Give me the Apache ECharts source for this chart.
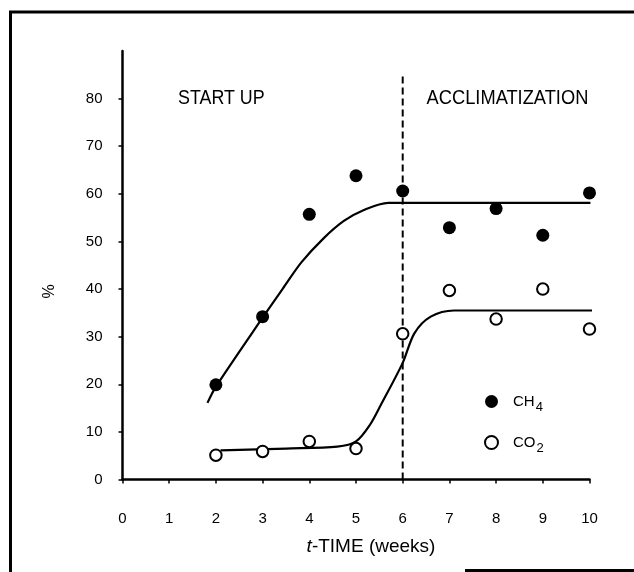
<!DOCTYPE html>
<html><head><meta charset="utf-8">
<script src="https://cdn.jsdelivr.net/npm/echarts@6/dist/echarts.min.js"></script>
<style>html,body{margin:0;padding:0;background:#fff}#c{width:634px;height:572px}</style>
</head><body><div id="c"></div>
<script>
const weeks = [2, 3, 4, 5, 6, 7, 8, 9, 10];
const ch4 = [19.9, 34.2, 55.7, 63.8, 60.6, 52.9, 56.9, 51.3, 60.2];
const co2 = [5.1, 5.9, 8.0, 6.5, 30.6, 39.7, 33.7, 40.0, 31.6];
const ch4FitX = [1.82, 2.0, 3.0, 3.44, 3.83, 4.3, 4.74, 5.17, 5.69, 6.5, 10.02];
const ch4FitY = [16.1, 19.5, 34.0, 40.2, 45.6, 50.6, 54.3, 56.6, 58.1, 58.1, 58.1];
const co2FitX = [2.1, 3.5, 4.6, 5.0, 5.3, 5.55, 6.0, 6.25, 6.6, 7.1, 7.8, 10.17];
const co2FitY = [6.1, 6.5, 6.9, 8.0, 11.5, 16.0, 24.5, 30.7, 34.2, 35.5, 35.5, 35.5];
const boundaryX = [6, 6];
const boundaryY = [0, 85];
const xTicks = [0, 1, 2, 3, 4, 5, 6, 7, 8, 9, 10];
const yTicks = [0, 10, 20, 30, 40, 50, 60, 70, 80];
const phaseLabels = ['START UP', 'ACCLIMATIZATION'];
const xTitle = '{i|t}-TIME (weeks)';
const yTitle = '%';

const zip = (a, b) => a.map((v, i) => [v, b[i]]);
const FONT = 'Liberation Sans, Arial, sans-serif';

const chart = echarts.init(document.getElementById('c'), null, {renderer: 'canvas'});
chart.setOption({
  backgroundColor: '#fff',
  animation: false,
  grid: {left: 122.5, right: 44.5, top: 51, bottom: 92.5},
  xAxis: {
    type: 'value', min: 0, max: 10, interval: 1,
    axisLine: {show: true, lineStyle: {color: '#000', width: 2.5}},
    axisTick: {show: true, length: 4, lineStyle: {color: '#000', width: 1.5}, customValues: xTicks},
    axisLabel: {color: '#000', fontFamily: FONT, fontSize: 15, margin: 32, customValues: xTicks},
    splitLine: {show: false}
  },
  yAxis: {
    type: 'value', min: 0, max: 90, interval: 10,
    axisLine: {show: true, lineStyle: {color: '#000', width: 2.5}},
    axisTick: {show: true, length: 4, lineStyle: {color: '#000', width: 1.5}, customValues: yTicks},
    axisLabel: {color: '#000', fontFamily: FONT, fontSize: 15, margin: 20, customValues: yTicks},
    splitLine: {show: false}
  },
  legend: {
    orient: 'vertical', left: 479, top: 389, itemWidth: 33, itemHeight: 13, itemGap: 21,
    data: ['CH4', 'CO2'],
    selectedMode: false,
    formatter: n => n === 'CH4' ? 'CH{s|4}' : 'CO{s|2}',
    textStyle: {
      color: '#000', fontFamily: FONT, fontSize: 15,
      rich: {s: {fontFamily: FONT, fontSize: 13, color: '#000', padding: [12, 0, 0, 1]}}
    }
  },
  series: [
    {
      type: 'line', name: 'boundary', data: zip(boundaryX, boundaryY), showSymbol: false, symbol: 'none',
      lineStyle: {color: '#000', width: 2, type: [7, 4]}, silent: true, z: 1
    },
    {
      type: 'line', name: 'ch4fit', data: zip(ch4FitX, ch4FitY), symbol: 'none', smooth: 0.3, clip: false,
      lineStyle: {color: '#000', width: 2.2}, silent: true, z: 2
    },
    {
      type: 'line', name: 'co2fit', data: zip(co2FitX, co2FitY), symbol: 'none', smooth: 0.3, clip: false,
      lineStyle: {color: '#000', width: 2.2}, silent: true, z: 2
    },
    {
      type: 'scatter', name: 'CH4', data: zip(weeks, ch4), symbol: 'circle', symbolSize: 13,
      itemStyle: {color: '#000', opacity: 1}, z: 5
    },
    {
      type: 'scatter', name: 'CO2', data: zip(weeks, co2), symbol: 'circle', symbolSize: 11.5,
      itemStyle: {color: '#fff', borderColor: '#000', borderWidth: 2, opacity: 1}, z: 5
    }
  ],
  graphic: [
    {type: 'polyline', shape: {points: [[10.5, 572], [10.5, 12], [634, 12]]}, style: {stroke: '#000', lineWidth: 3, fill: null}, silent: true},
    {type: 'line', shape: {x1: 465, y1: 570.5, x2: 634, y2: 570.5}, style: {stroke: '#000', lineWidth: 3}, silent: true},
    {type: 'text', x: 178, y: 98, scaleX: 0.85, style: {text: phaseLabels[0], font: '21px ' + FONT, fill: '#000', textAlign: 'left', textVerticalAlign: 'middle'}},
    {type: 'text', x: 426.6, y: 98, scaleX: 0.87, style: {text: phaseLabels[1], font: '21px ' + FONT, fill: '#000', textAlign: 'left', textVerticalAlign: 'middle'}},
    {type: 'text', x: 50, y: 291.5, rotation: Math.PI / 2, style: {text: yTitle, font: '16px ' + FONT, fill: '#000', textAlign: 'center', textVerticalAlign: 'middle'}},
    {type: 'text', x: 371, y: 547, style: {
      text: xTitle, fontFamily: FONT, fontSize: 19, fill: '#000', textAlign: 'center', textVerticalAlign: 'middle',
      rich: {i: {fontStyle: 'italic', fontFamily: FONT, fontSize: 19, fill: '#000'}}
    }}
  ]
});
</script></body></html>
